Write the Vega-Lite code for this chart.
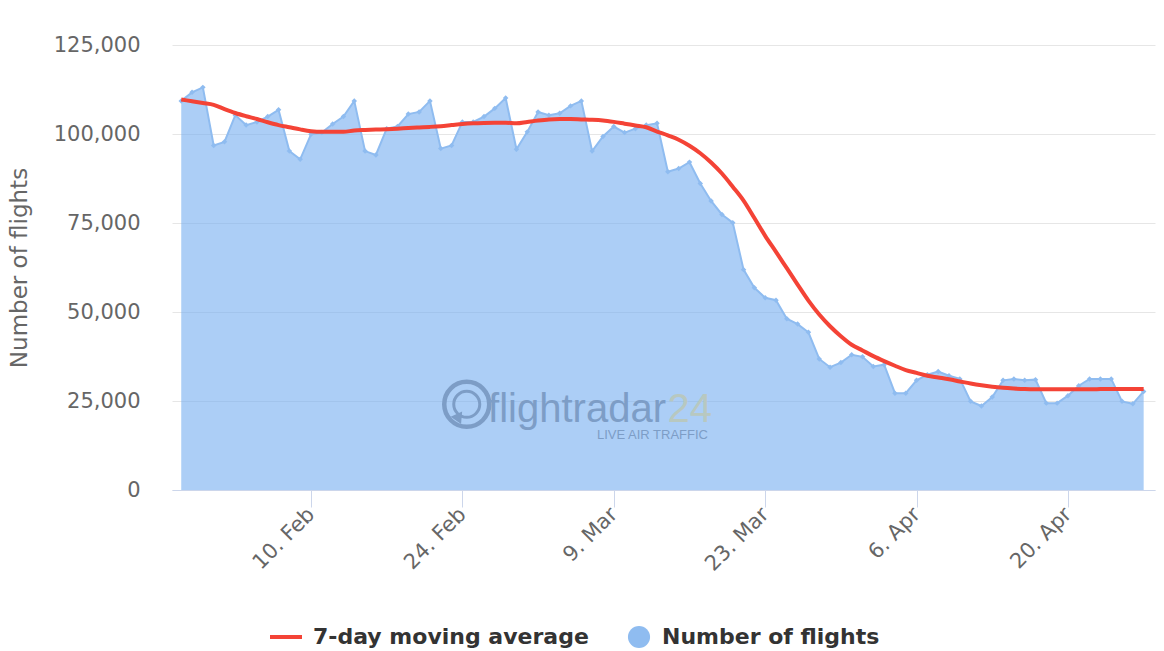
{
  "$schema": "https://vega.github.io/schema/vega-lite/v6.json",
  "width": 983,
  "height": 445,
  "autosize": "none",
  "padding": {"left": 172, "top": 45, "right": 9, "bottom": 161},
  "datasets": {
    "flights": [
      {"date": "2020-01-29T00:00", "flights": 109300, "avg": 109700},
      {"date": "2020-01-30T00:00", "flights": 111700, "avg": 109200},
      {"date": "2020-01-31T00:00", "flights": 113100, "avg": 108700},
      {"date": "2020-02-01T00:00", "flights": 96800, "avg": 108200},
      {"date": "2020-02-02T00:00", "flights": 97800, "avg": 107000},
      {"date": "2020-02-03T00:00", "flights": 105300, "avg": 105900},
      {"date": "2020-02-04T00:00", "flights": 102500, "avg": 105000},
      {"date": "2020-02-05T00:00", "flights": 103400, "avg": 104200},
      {"date": "2020-02-06T00:00", "flights": 104900, "avg": 103300},
      {"date": "2020-02-07T00:00", "flights": 106800, "avg": 102500},
      {"date": "2020-02-08T00:00", "flights": 95200, "avg": 101900},
      {"date": "2020-02-09T00:00", "flights": 92900, "avg": 101300},
      {"date": "2020-02-10T00:00", "flights": 99900, "avg": 100800},
      {"date": "2020-02-11T00:00", "flights": 100400, "avg": 100600},
      {"date": "2020-02-12T00:00", "flights": 102800, "avg": 100600},
      {"date": "2020-02-13T00:00", "flights": 104900, "avg": 100600},
      {"date": "2020-02-14T00:00", "flights": 109300, "avg": 101000},
      {"date": "2020-02-15T00:00", "flights": 95200, "avg": 101150},
      {"date": "2020-02-16T00:00", "flights": 94100, "avg": 101250},
      {"date": "2020-02-17T00:00", "flights": 101500, "avg": 101350},
      {"date": "2020-02-18T00:00", "flights": 102100, "avg": 101500},
      {"date": "2020-02-19T00:00", "flights": 105600, "avg": 101700},
      {"date": "2020-02-20T00:00", "flights": 106200, "avg": 101850},
      {"date": "2020-02-21T00:00", "flights": 109300, "avg": 102000},
      {"date": "2020-02-22T00:00", "flights": 95900, "avg": 102200},
      {"date": "2020-02-23T00:00", "flights": 96800, "avg": 102500},
      {"date": "2020-02-24T00:00", "flights": 103400, "avg": 102800},
      {"date": "2020-02-25T00:00", "flights": 103400, "avg": 103000},
      {"date": "2020-02-26T00:00", "flights": 104900, "avg": 103100},
      {"date": "2020-02-27T00:00", "flights": 107200, "avg": 103150},
      {"date": "2020-02-28T00:00", "flights": 110100, "avg": 103150},
      {"date": "2020-02-29T00:00", "flights": 95700, "avg": 103000},
      {"date": "2020-03-01T00:00", "flights": 100600, "avg": 103400},
      {"date": "2020-03-02T00:00", "flights": 106200, "avg": 103800},
      {"date": "2020-03-03T00:00", "flights": 105300, "avg": 104100},
      {"date": "2020-03-04T00:00", "flights": 105800, "avg": 104200},
      {"date": "2020-03-05T00:00", "flights": 107900, "avg": 104200},
      {"date": "2020-03-06T00:00", "flights": 109300, "avg": 104100},
      {"date": "2020-03-07T00:00", "flights": 95200, "avg": 104000},
      {"date": "2020-03-08T00:00", "flights": 99300, "avg": 103800},
      {"date": "2020-03-09T00:00", "flights": 102100, "avg": 103400},
      {"date": "2020-03-10T00:00", "flights": 100400, "avg": 102900},
      {"date": "2020-03-11T00:00", "flights": 101500, "avg": 102400},
      {"date": "2020-03-12T00:00", "flights": 102500, "avg": 101900},
      {"date": "2020-03-13T00:00", "flights": 103000, "avg": 100700},
      {"date": "2020-03-14T00:00", "flights": 89400, "avg": 99600},
      {"date": "2020-03-15T00:00", "flights": 90300, "avg": 98400},
      {"date": "2020-03-16T00:00", "flights": 92100, "avg": 96700},
      {"date": "2020-03-17T00:00", "flights": 86100, "avg": 94600},
      {"date": "2020-03-18T00:00", "flights": 81200, "avg": 92000},
      {"date": "2020-03-19T00:00", "flights": 77400, "avg": 88900},
      {"date": "2020-03-20T00:00", "flights": 75100, "avg": 85200},
      {"date": "2020-03-21T00:00", "flights": 61900, "avg": 81300},
      {"date": "2020-03-22T00:00", "flights": 56800, "avg": 76400},
      {"date": "2020-03-23T00:00", "flights": 54000, "avg": 71400},
      {"date": "2020-03-24T00:00", "flights": 53300, "avg": 66900},
      {"date": "2020-03-25T00:00", "flights": 48100, "avg": 62300},
      {"date": "2020-03-26T00:00", "flights": 46600, "avg": 57700},
      {"date": "2020-03-27T00:00", "flights": 44300, "avg": 53200},
      {"date": "2020-03-28T00:00", "flights": 36800, "avg": 49300},
      {"date": "2020-03-29T00:00", "flights": 34500, "avg": 46000},
      {"date": "2020-03-30T00:00", "flights": 35800, "avg": 43200},
      {"date": "2020-03-31T00:00", "flights": 38000, "avg": 40800},
      {"date": "2020-04-01T00:00", "flights": 37400, "avg": 39200},
      {"date": "2020-04-02T00:00", "flights": 34700, "avg": 37600},
      {"date": "2020-04-03T00:00", "flights": 35200, "avg": 36200},
      {"date": "2020-04-04T00:00", "flights": 27200, "avg": 34900},
      {"date": "2020-04-05T00:00", "flights": 27200, "avg": 33700},
      {"date": "2020-04-06T00:00", "flights": 30800, "avg": 32900},
      {"date": "2020-04-07T00:00", "flights": 32400, "avg": 32100},
      {"date": "2020-04-08T00:00", "flights": 33300, "avg": 31600},
      {"date": "2020-04-09T00:00", "flights": 32100, "avg": 31100},
      {"date": "2020-04-10T00:00", "flights": 31200, "avg": 30500},
      {"date": "2020-04-11T00:00", "flights": 24900, "avg": 29900},
      {"date": "2020-04-12T00:00", "flights": 23600, "avg": 29400},
      {"date": "2020-04-13T00:00", "flights": 26100, "avg": 29000},
      {"date": "2020-04-14T00:00", "flights": 30800, "avg": 28700},
      {"date": "2020-04-15T00:00", "flights": 31200, "avg": 28500},
      {"date": "2020-04-16T00:00", "flights": 30800, "avg": 28350},
      {"date": "2020-04-17T00:00", "flights": 31000, "avg": 28300},
      {"date": "2020-04-18T00:00", "flights": 24400, "avg": 28300},
      {"date": "2020-04-19T00:00", "flights": 24400, "avg": 28300},
      {"date": "2020-04-20T00:00", "flights": 26500, "avg": 28300},
      {"date": "2020-04-21T00:00", "flights": 29300, "avg": 28300},
      {"date": "2020-04-22T00:00", "flights": 31200, "avg": 28300},
      {"date": "2020-04-23T00:00", "flights": 31200, "avg": 28350},
      {"date": "2020-04-24T00:00", "flights": 31200, "avg": 28400},
      {"date": "2020-04-25T00:00", "flights": 24900, "avg": 28400},
      {"date": "2020-04-26T00:00", "flights": 24200, "avg": 28400},
      {"date": "2020-04-27T00:00", "flights": 27700, "avg": 28400}
    ],
    "watermark": [
      {"part": "logo"}
    ]
  },
  "layer": [
    {
      "data": {"name": "flights"},
      "mark": {
        "type": "area",
        "fill": "#75aef0",
        "fillOpacity": 0.6,
        "line": {"color": "#8fbcf0", "strokeWidth": 2}
      },
      "encoding": {
        "x": {
          "field": "date",
          "type": "temporal",
          "title": null,
          "scale": {
            "domain": [
              {"year": 2020, "month": 1, "date": 28, "hours": 3, "minutes": 30},
              {"year": 2020, "month": 4, "date": 28, "hours": 1, "minutes": 10}
            ]
          },
          "axis": {
            "values": [
              {"year": 2020, "month": 2, "date": 10},
              {"year": 2020, "month": 2, "date": 24},
              {"year": 2020, "month": 3, "date": 9},
              {"year": 2020, "month": 3, "date": 23},
              {"year": 2020, "month": 4, "date": 6},
              {"year": 2020, "month": 4, "date": 20}
            ],
            "format": "%-d. %b",
            "labelAngle": -45,
            "labelAlign": "right",
            "labelBaseline": "middle",
            "labelFont": "DejaVu Sans",
            "labelFontSize": 21,
            "labelColor": "#666666",
            "labelPadding": 4,
            "tickColor": "#ccd6eb",
            "tickSize": 17,
            "domainColor": "#ccd6eb",
            "grid": false
          }
        },
        "y": {
          "field": "flights",
          "type": "quantitative",
          "title": "Number of flights",
          "scale": {"domain": [0, 125000], "nice": false},
          "axis": {
            "values": [0, 25000, 50000, 75000, 100000, 125000],
            "format": ",.0f",
            "ticks": false,
            "domain": false,
            "labelPadding": 32,
            "labelFont": "DejaVu Sans",
            "labelFontSize": 21,
            "labelColor": "#666666",
            "gridColor": "#e6e6e6",
            "titleFont": "DejaVu Sans",
            "titleFontSize": 23,
            "titleFontWeight": "normal",
            "titleColor": "#666666",
            "titlePadding": 22
          }
        }
      }
    },
    {
      "data": {"name": "flights"},
      "mark": {"type": "point", "shape": "diamond", "filled": true, "size": 30, "opacity": 1},
      "encoding": {
        "x": {"field": "date", "type": "temporal"},
        "y": {"field": "flights", "type": "quantitative", "title": "Number of flights"},
        "color": {
          "datum": "Number of flights",
          "scale": {"domain": ["Number of flights"], "range": ["#8fbcf0"]},
          "legend": {
            "title": null,
            "orient": "none",
            "legendX": 455,
            "legendY": 580,
            "direction": "horizontal",
            "labelFont": "DejaVu Sans",
            "labelFontSize": 22,
            "labelFontWeight": "bold",
            "labelColor": "#333333",
            "labelLimit": 500,
            "symbolType": "circle",
            "symbolSize": 490,
            "symbolOpacity": 1,
            "labelOffset": 11
          }
        }
      }
    },
    {
      "data": {"name": "watermark"},
      "mark": {"type": "point", "shape": "circle", "filled": false, "stroke": "#7d9dc6", "strokeWidth": 4.5, "size": 2025, "opacity": 1},
      "encoding": {
        "x": {"datum": {"year": 2020, "month": 2, "date": 24, "hours": 9, "minutes": 40}, "type": "temporal"},
        "y": {"datum": 24070, "type": "quantitative"}
      }
    },
    {
      "data": {"name": "watermark"},
      "mark": {"type": "point", "shape": "circle", "filled": false, "stroke": "#7d9dc6", "strokeWidth": 3, "size": 676, "opacity": 1},
      "encoding": {
        "x": {"datum": {"year": 2020, "month": 2, "date": 24, "hours": 9, "minutes": 40}, "type": "temporal"},
        "y": {"datum": 24070, "type": "quantitative"}
      }
    },
    {
      "data": {"name": "watermark"},
      "mark": {"type": "point", "shape": "triangle-up", "filled": true, "fill": "#7d9dc6", "size": 160, "angle": 35, "opacity": 1},
      "encoding": {
        "x": {"datum": {"year": 2020, "month": 2, "date": 23, "hours": 16, "minutes": 30}, "type": "temporal"},
        "y": {"datum": 20790, "type": "quantitative"}
      }
    },
    {
      "data": {"name": "watermark"},
      "mark": {"type": "text", "font": "Liberation Sans", "fontSize": 40, "align": "left", "baseline": "alphabetic", "color": "#7d9dc6"},
      "encoding": {
        "x": {"datum": {"year": 2020, "month": 2, "date": 26, "hours": 9}, "type": "temporal"},
        "y": {"datum": 19100, "type": "quantitative"},
        "text": {"value": "flightradar"}
      }
    },
    {
      "data": {"name": "watermark"},
      "mark": {"type": "text", "font": "Liberation Sans", "fontSize": 40, "align": "left", "baseline": "alphabetic", "color": "#b8c8c0"},
      "encoding": {
        "x": {"datum": {"year": 2020, "month": 3, "date": 13, "hours": 23}, "type": "temporal"},
        "y": {"datum": 19100, "type": "quantitative"},
        "text": {"value": "24"}
      }
    },
    {
      "data": {"name": "watermark"},
      "mark": {"type": "text", "font": "Liberation Sans", "fontSize": 13, "align": "right", "baseline": "alphabetic", "color": "#7d9dc6"},
      "encoding": {
        "x": {"datum": {"year": 2020, "month": 3, "date": 17, "hours": 17}, "type": "temporal"},
        "y": {"datum": 14300, "type": "quantitative"},
        "text": {"value": "LIVE AIR TRAFFIC"}
      }
    },
    {
      "data": {"name": "flights"},
      "mark": {"type": "line", "strokeWidth": 4, "interpolate": "monotone"},
      "encoding": {
        "x": {"field": "date", "type": "temporal"},
        "y": {"field": "avg", "type": "quantitative", "title": "Number of flights"},
        "color": {
          "datum": "7-day moving average",
          "scale": {"domain": ["7-day moving average"], "range": ["#f44336"]},
          "legend": {
            "title": null,
            "orient": "none",
            "legendX": 96,
            "legendY": 574,
            "direction": "horizontal",
            "labelFont": "DejaVu Sans",
            "labelFontSize": 22,
            "labelFontWeight": "bold",
            "labelColor": "#333333",
            "labelLimit": 500,
            "symbolType": "stroke",
            "symbolSize": 1024,
            "symbolStrokeWidth": 4,
            "labelOffset": 9
          }
        }
      }
    }
  ],
  "resolve": {"scale": {"color": "independent"}, "legend": {"color": "independent"}},
  "config": {
    "view": {"stroke": null},
    "font": "DejaVu Sans"
  }
}
